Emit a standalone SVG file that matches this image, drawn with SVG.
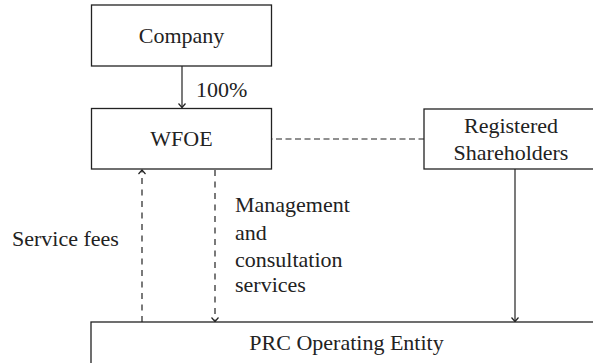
<svg xmlns="http://www.w3.org/2000/svg" width="593" height="363" viewBox="0 0 593 363">
<style>
.box{fill:#fff;stroke:#222;stroke-width:1.3}
.t{font-family:"Liberation Serif","Times New Roman",serif;font-size:22px;fill:#222}
.c{text-anchor:middle}
.ln{fill:none;stroke:#222;stroke-width:1.2}
.dh{stroke-dasharray:6 3.5;stroke-dashoffset:-4}
.dv{stroke-dasharray:6 5.5}
</style>
<defs>
<marker id="ah" viewBox="-5 -5 10 10" markerWidth="10" markerHeight="10" markerUnits="userSpaceOnUse" orient="auto" refX="0" refY="0">
<path d="M-4,-3.5 L0,0 L-4,3.5" fill="none" stroke="#222" stroke-width="1.2"/>
</marker>
</defs>
<rect width="593" height="363" fill="#fff"/>
<g id="connectors">
<line class="ln" x1="182" y1="66" x2="182" y2="107.5" marker-end="url(#ah)"/>
<line class="ln dh" x1="272" y1="139" x2="424" y2="139"/>
<line class="ln dv" x1="142" y1="322" x2="142" y2="170" marker-end="url(#ah)"/>
<line class="ln dv" x1="215" y1="170" x2="215" y2="321.5" marker-end="url(#ah)"/>
<line class="ln" x1="515" y1="169" x2="515" y2="321.5" marker-end="url(#ah)"/>
<text class="t" x="196" y="96.5">100%</text>
<text class="t" x="12" y="246">Service fees</text>
<text class="t" x="235" y="212.3">Management</text>
<text class="t" x="235" y="239.5">and</text>
<text class="t" x="235" y="266.5">consultation</text>
<text class="t" x="235" y="292">services</text>
</g>
<g id="company">
<rect class="box" x="91.5" y="5" width="180" height="61"/>
<text class="t c" x="181.5" y="43.3">Company</text>
</g>
<g id="wfoe">
<rect class="box" x="91.5" y="108.5" width="180" height="60.5"/>
<text class="t c" x="181.5" y="146">WFOE</text>
</g>
<g id="registered">
<rect class="box" x="424" y="109" width="174" height="60"/>
<text class="t c" x="511" y="132.7">Registered</text>
<text class="t c" x="511" y="160">Shareholders</text>
</g>
<g id="prc">
<rect class="box" x="91" y="322" width="511" height="60"/>
<text class="t c" x="346.5" y="349.5">PRC Operating Entity</text>
</g>
</svg>
